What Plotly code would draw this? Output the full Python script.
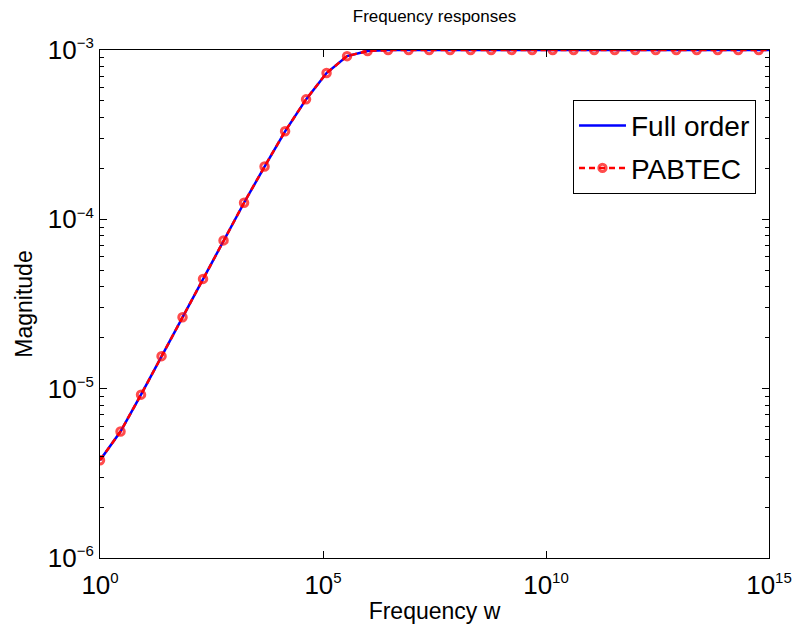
import plotly.graph_objects as go

# frequency sample points (log10 of w)
log_w = [0.0, 0.46, 0.92, 1.38, 1.85, 2.31, 2.77, 3.23, 3.69, 4.15, 4.62,
         5.08, 5.54, 6.0, 6.46, 6.92, 7.38, 7.85, 8.31, 8.77, 9.23, 9.69,
         10.15, 10.62, 11.08, 11.54, 12.0, 12.46, 12.92, 13.38, 13.85,
         14.31, 14.77, 15.0]
freq = [10 ** e for e in log_w]

# magnitudes
full_order = [3.78e-6, 5.58e-6, 9.22e-6, 1.556e-5, 2.64e-5, 4.45e-5, 7.51e-5,
              1.253e-4, 2.05e-4, 3.31e-4, 5.11e-4, 7.31e-4, 9.2e-4, 9.87e-4,
              9.99e-4, 1e-3, 1e-3, 1e-3, 1e-3, 1e-3, 1e-3, 1e-3, 1e-3, 1e-3,
              1e-3, 1e-3, 1e-3, 1e-3, 1e-3, 1e-3, 1e-3, 1e-3, 1e-3, 1e-3]
pabtec = list(full_order)

x_ticks = [1, 1e5, 1e10, 1e15]
x_exps = ["0", "5", "10", "15"]
y_ticks = [1e-6, 1e-5, 1e-4, 1e-3]
y_exps = ["\u22126", "\u22125", "\u22124", "\u22123"]
y_minor = [m * 10 ** d for d in (-6, -5, -4) for m in range(2, 10)]


def pow10(e):
    # MATLAB-like label: big "10" with a small exponent
    return "10<sup><span style='font-size:15px'>%s</span></sup>" % e


FONT = "Liberation Sans, Arial, sans-serif"

# last sample (at 1e15) carries no marker, the line just runs to the edge
marker_sizes = [7.5] * (len(freq) - 1) + [0]

fig = go.Figure()
fig.add_trace(go.Scatter(x=freq, y=full_order, mode="lines", name="Full order",
                         legendgroup="a",
                         line=dict(color="#0000ff", width=2.5)))
fig.add_trace(go.Scatter(x=freq, y=pabtec, mode="lines+markers", name="PABTEC",
                         legendgroup="b",
                         line=dict(color="#ff0000", width=2.5, dash="6px,4px"),
                         marker=dict(symbol="circle-open", size=marker_sizes,
                                     line=dict(color="#ff0000", width=3))))

fig.update_layout(
    width=798, height=626,
    paper_bgcolor="white", plot_bgcolor="white",
    margin=dict(l=100, r=29, t=50, b=68),
    font=dict(family=FONT, color="black"),
    title=dict(text="Frequency responses", x=0.5, xref="paper", xanchor="center",
               y=0.9744, yanchor="middle", font=dict(size=17)),
    legend=dict(x=0.707, y=0.902, xanchor="left", yanchor="top",
                bgcolor="white", bordercolor="black", borderwidth=1,
                font=dict(size=28), itemwidth=47, tracegroupgap=3),
    showlegend=True,
)

fig.update_xaxes(type="log", range=[0, 15], tickvals=x_ticks,
                 ticktext=[pow10(e) for e in x_exps],
                 ticks="inside", ticklen=7, tickcolor="black",
                 showline=True, linecolor="black", linewidth=1, mirror="ticks",
                 showgrid=False, zeroline=False, automargin=False,
                 tickfont=dict(size=26), ticklabelstandoff=4,
                 title=dict(text="Frequency w", font=dict(size=23), standoff=3))

fig.update_yaxes(type="log", range=[-6, -3], tickvals=y_ticks,
                 ticktext=[pow10(e) for e in y_exps],
                 ticks="inside", ticklen=7, tickcolor="black",
                 showline=True, linecolor="black", linewidth=1, mirror="ticks",
                 showgrid=False, zeroline=False, automargin=False,
                 tickfont=dict(size=26),
                 minor=dict(ticks="inside", ticklen=4, tickcolor="black",
                            tickvals=y_minor, showgrid=False),
                 title=dict(text="Magnitude", font=dict(size=23), standoff=8))

# drop the default page margin so the figure fills the window exactly
fig.write_html("out.html", config={"displayModeBar": False},
               post_script="document.body.style.margin='0';")
